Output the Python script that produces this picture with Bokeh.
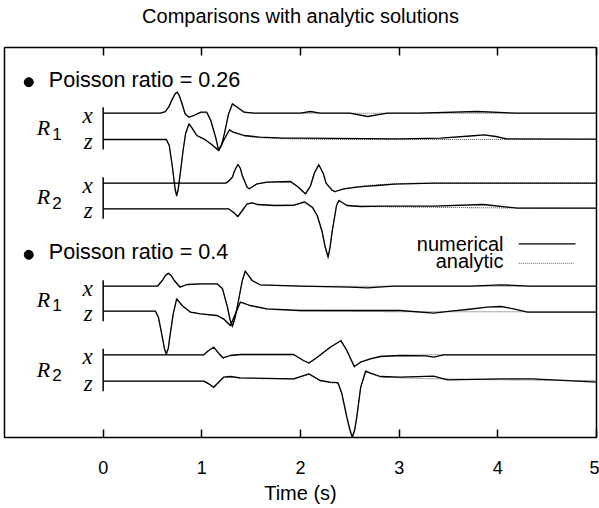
from bokeh.plotting import figure
from bokeh.models import Range1d, LinearAxis, FixedTicker, Label, Title
from bokeh.embed import file_html
from bokeh.resources import INLINE

# ---------------- data ----------------
title_text = "Comparisons with analytic solutions"
time_ticks = [0, 1, 2, 3, 4, 5]
group_titles = ["Poisson ratio = 0.26", "Poisson ratio = 0.4"]
receivers = ["R", "R", "R", "R"]
receiver_subs = ["1", "2", "1", "2"]
components = ["x", "z", "x", "z", "x", "z", "x", "z"]
# vertical offsets of the 8 traces (plot units)
offsets = [324.3, 298.0, 254.3, 228.7, 151.3, 126.3, 82.7, 56.3]

# numerical traces (time in s, amplitude in plot units)
A_t = [0, 0.58, 0.63, 0.67, 0.70, 0.73, 0.75, 0.77, 0.80, 0.83, 0.87, 0.92, 0.99, 1.05, 1.09, 1.14, 1.17, 1.20, 1.23, 1.27, 1.31, 1.36, 1.43, 1.53, 2.0, 2.1, 2.2, 2.5, 2.68, 2.88, 3.2, 3.79, 4.2, 5.0]
A_a = [0, 0, 1.5, 7, 14, 19.5, 21, 18, 9.5, -0.5, -4, -2.3, 1, 1, -7, -24, -37, -32, -20, -1, 9.5, 6, 1, 0, 0, 1.7, 0, 0, -3.3, 0, 0, 1.7, 0, 0]
B_t = [0, 0.64, 0.67, 0.70, 0.73, 0.745, 0.76, 0.79, 0.81, 0.835, 0.87, 0.90, 0.95, 1.02, 1.09, 1.14, 1.17, 1.22, 1.28, 1.32, 1.43, 1.59, 1.83, 2.0, 3.0, 3.42, 3.72, 3.86, 3.98, 4.09, 5.0]
B_a = [0, 0, -6, -26, -50, -56, -50, -27, -11, 5.7, 15.7, 11.7, 4, 0.7, -4.3, -8.3, -11, -1, 9.7, 7.3, 4, 2.3, 1.3, 1.3, 0.7, 1.3, 3.5, 4.7, 3, 0.7, 0.3]
C_t = [0, 1.24, 1.26, 1.31, 1.33, 1.365, 1.39, 1.41, 1.46, 1.48, 1.56, 1.66, 1.90, 1.98, 2.05, 2.10, 2.14, 2.185, 2.23, 2.26, 2.32, 2.35, 2.44, 2.57, 2.68, 2.78, 2.95, 3.35, 5.0]
C_a = [0, 0, 1, 6, 12, 18.7, 15, 7.7, -4, -5.6, -0.6, 1, 1.7, -4, -10.6, -3, 10, 18.4, 10, 0, -7, -8.3, -5.6, -4, -3, -2.3, -1, 0, 0]
D_t = [0, 1.27, 1.32, 1.365, 1.41, 1.46, 1.51, 1.56, 1.73, 1.93, 2.04, 2.12, 2.17, 2.22, 2.25, 2.28, 2.30, 2.32, 2.365, 2.39, 2.47, 2.61, 2.84, 3.35, 3.85, 4.2, 5.0]
D_a = [0, 0, -3.4, -7.7, -1.7, 5, 6, 4.3, 3.3, 3.5, 7, 1.6, -6.7, -23, -38, -48, -38, -23, 3.3, 8.3, 3.3, 2.3, 2.6, 2.6, 4.3, 0.6, 0.6]
E_t = [0, 0.55, 0.60, 0.63, 0.66, 0.69, 0.72, 0.78, 0.85, 0.99, 1.155, 1.21, 1.26, 1.285, 1.31, 1.34, 1.365, 1.41, 1.44, 1.47, 1.51, 1.59, 2.0, 2.5, 2.68, 2.94, 3.72, 4.03, 4.33, 5.0]
E_a = [0, 0, 5.7, 10.5, 13, 10.5, 5.7, -1, 1.7, 2.4, 2.4, -2.6, -21, -33, -40, -30, -17.6, 5.7, 15, 11, 5.7, 1.4, 0, -1, -1.7, 0, 0, 1.4, 0, 0]
F_t = [0, 0.53, 0.56, 0.60, 0.62, 0.64, 0.66, 0.675, 0.71, 0.745, 0.80, 0.885, 0.99, 1.155, 1.22, 1.29, 1.34, 1.39, 1.49, 1.66, 2.0, 3.01, 3.35, 3.52, 3.69, 3.89, 4.03, 4.16, 4.30, 5.0]
F_a = [0, 0, -6, -26, -37, -42.6, -37, -26, -2.6, 12.4, 5.7, -1, -2.6, -4.3, -7.6, -14.3, -2.6, 9, 5.7, 2.4, 0.7, 0.7, -2, 0, 1.7, 4, 4.7, 2.4, -1, -1]
G_t = [0, 1.02, 1.07, 1.12, 1.17, 1.215, 1.29, 1.39, 1.93, 2.03, 2.085, 2.17, 2.30, 2.41, 2.47, 2.545, 2.61, 2.71, 2.81, 3.01, 3.27, 3.35, 3.45, 5.0]
G_a = [0, 0, 4.3, 7.6, 1.6, -3, -0.7, 0.3, 0.3, -5.7, -8.2, -2.4, 7.6, 14, 4.3, -11.7, -7.4, -4, -1.7, -0.7, -1, -2.4, 0, 0]
H_t = [0, 1.02, 1.07, 1.12, 1.17, 1.22, 1.29, 1.39, 1.93, 2.085, 2.20, 2.30, 2.38, 2.42, 2.47, 2.50, 2.525, 2.55, 2.57, 2.61, 2.66, 2.71, 2.81, 3.01, 3.35, 3.49, 4.03, 4.35, 5.0]
H_a = [0, 0, -2.6, -6, -1, 4, 4.7, 3.4, 2.4, 7.4, 0.7, -1, -1.5, -12.6, -36, -48, -56, -48, -36, -6, 10, 8, 4.7, 4, 5, 1.4, 2.4, 2.4, -1]

# analytic traces
A_an_t = [0, 0.58, 0.63, 0.67, 0.70, 0.73, 0.75, 0.77, 0.80, 0.83, 0.87, 0.92, 0.99, 1.05, 1.09, 1.14, 1.17, 1.20, 1.23, 1.27, 1.31, 1.36, 1.43, 1.53, 5.0]
A_an_a = [0, 0, 1.5, 7.5, 14.5, 20, 21.5, 18, 9, -1, -4, -2, 0.5, 0.5, -7.5, -25, -38, -32, -20, -1.5, 9, 5.5, 0.5, 0, 0]
B_an_t = [0, 0.64, 0.67, 0.70, 0.73, 0.745, 0.76, 0.79, 0.81, 0.835, 0.87, 0.90, 0.95, 1.02, 1.09, 1.14, 1.17, 1.22, 1.28, 1.32, 1.43, 1.59, 1.83, 2.3, 5.0]
B_an_a = [0, 0, -6, -27, -51, -57, -51, -28, -11, 6, 16, 11, 3.5, 0.3, -4.5, -8.8, -11.5, -1.5, 9.2, 7, 3.5, 1.8, 0.8, 0, 0]
C_an_t = [0, 1.24, 1.26, 1.31, 1.33, 1.365, 1.39, 1.41, 1.46, 1.48, 1.56, 1.66, 1.90, 1.98, 2.05, 2.10, 2.14, 2.185, 2.23, 2.26, 2.32, 2.35, 2.44, 2.57, 2.78, 3.1, 5.0]
C_an_a = [0, 0, 1, 6.5, 12.5, 19, 15, 7, -4.5, -5.8, -0.8, 0.8, 1.2, -4.5, -11, -3.5, 10, 19, 10, -0.5, -7.5, -8.8, -5.5, -3.5, -1.5, 0, 0]
D_an_t = [0, 1.27, 1.32, 1.365, 1.41, 1.46, 1.51, 1.56, 1.73, 1.93, 2.04, 2.12, 2.17, 2.22, 2.25, 2.28, 2.30, 2.32, 2.365, 2.39, 2.47, 2.61, 2.84, 3.35, 4.2, 5.0]
D_an_a = [0, 0, -3.6, -8, -1.5, 5, 5.8, 4.5, 3.5, 3.8, 6.5, 1.2, -7.5, -24, -39, -50, -39, -24, 3, 8.5, 3.5, 2.5, 2, 1.5, 0.8, 0.5]
E_an_t = [0, 0.55, 0.60, 0.63, 0.66, 0.69, 0.72, 0.78, 0.85, 0.99, 1.155, 1.21, 1.26, 1.285, 1.31, 1.34, 1.365, 1.41, 1.44, 1.47, 1.51, 1.59, 2.0, 5.0]
E_an_a = [0, 0, 6, 11, 13.5, 11, 6, -0.5, 1.5, 2.2, 2.2, -3, -22, -34, -41, -31, -18, 5.5, 15.5, 11, 5.5, 1.2, 0, 0]
F_an_t = [0, 0.53, 0.56, 0.60, 0.62, 0.64, 0.66, 0.675, 0.71, 0.745, 0.80, 0.885, 0.99, 1.155, 1.22, 1.29, 1.34, 1.39, 1.49, 1.66, 2.0, 3.0, 5.0]
F_an_a = [0, 0, -6.5, -27, -38, -44, -38, -27, -3, 12.8, 5.5, -1.2, -2.8, -4.6, -8, -15, -3, 9.3, 5.5, 2, 0.3, -0.5, -0.5]
G_an_t = [0, 1.02, 1.07, 1.12, 1.17, 1.215, 1.29, 1.39, 1.93, 2.03, 2.085, 2.17, 2.30, 2.41, 2.47, 2.545, 2.61, 2.71, 2.81, 3.01, 3.3, 5.0]
G_an_a = [0, 0, 4.6, 8, 1.3, -3.3, -0.5, 0, 0, -6, -8.6, -2.8, 7.2, 14.5, 4, -12.3, -7, -3.6, -1.5, -0.5, 0, 0]
H_an_t = [0, 1.02, 1.07, 1.12, 1.17, 1.22, 1.29, 1.39, 1.93, 2.085, 2.20, 2.30, 2.38, 2.42, 2.47, 2.50, 2.525, 2.55, 2.57, 2.61, 2.66, 2.71, 2.81, 3.01, 3.35, 4.0, 5.0]
H_an_a = [0, 0, -2.8, -6.5, -1.3, 3.6, 4.3, 3, 2, 6.8, 0.3, -1.5, -2, -13.5, -37.5, -50, -57, -50, -37.5, -7, 10.5, 7.5, 4.2, 3.4, 2.5, 1.5, 0.5]

numerical = [(A_t, A_a), (B_t, B_a), (C_t, C_a), (D_t, D_a),
             (E_t, E_a), (F_t, F_a), (G_t, G_a), (H_t, H_a)]
analytic = [(A_an_t, A_an_a), (B_an_t, B_an_a), (C_an_t, C_an_a), (D_an_t, D_an_a),
            (E_an_t, E_an_a), (F_an_t, F_an_a), (G_an_t, G_an_a), (H_an_t, H_an_a)]

# ---------------- figure ----------------
SANS = "Liberation Sans"
SERIF = "Liberation Serif"
DY = 7  # label baseline correction

p = figure(width=599, height=508, output_backend="svg", toolbar_location=None,
           x_range=Range1d(-1, 5), y_range=Range1d(0, 390),
           x_axis_location=None, y_axis_location=None,
           min_border_left=4, min_border_right=3, min_border_top=47, min_border_bottom=71)
p.title = None
p.grid.visible = False
p.outline_line_color = "black"
p.outline_line_width = 1.5
p.background_fill_color = "white"
p.border_fill_color = "white"

xb = LinearAxis(ticker=FixedTicker(ticks=time_ticks), axis_label="Time (s)",
                major_tick_in=8, major_tick_out=0, minor_tick_line_color=None,
                axis_line_color=None, major_tick_line_width=1.5,
                major_label_text_font=SANS, major_label_text_font_size="18px",
                major_label_text_color="black",
                major_label_standoff=23, axis_label_standoff=5,
                axis_label_text_font=SANS, axis_label_text_font_size="20px",
                axis_label_text_font_style="normal", axis_label_text_color="black")
p.add_layout(xb, "below")

# above panels, from the frame outward: top ticks, a blank spacer, the title
xt = LinearAxis(ticker=FixedTicker(ticks=time_ticks),
                major_tick_in=8, major_tick_out=0, minor_tick_line_color=None,
                axis_line_color=None, major_tick_line_width=1.5,
                major_label_text_font_size="1px", major_label_text_alpha=0,
                major_label_standoff=0)
p.add_layout(xt, "above")
p.add_layout(Title(text=" ", text_font=SANS, text_font_size="10px", standoff=5), "above")
p.add_layout(Title(text=title_text, align="center", text_font=SANS,
                   text_font_size="20px", text_font_style="normal",
                   text_color="black", standoff=5), "above")

# traces
for (t, a), off in zip(analytic, offsets):
    p.line(t, [off + v for v in a], line_color="#555555", line_width=1.1,
           line_dash="1 1", line_join="round")
for (t, a), off in zip(numerical, offsets):
    p.line(t, [off + v for v in a], line_color="black", line_width=1.3,
           line_join="round")

# start bars
for i in range(4):
    p.segment(x0=[0], y0=[offsets[2 * i] + 6], x1=[0], y1=[offsets[2 * i + 1] - 10],
              line_color="black", line_width=1.5)

# component labels
for comp, off in zip(components, offsets):
    p.add_layout(Label(x=-0.105, y=off - 9 + DY, text=comp, text_align="right",
                       text_baseline="alphabetic", text_font=SERIF, text_color="black",
                       text_font_style="italic", text_font_size="23px"))

# receiver labels
for i, (r, s) in enumerate(zip(receivers, receiver_subs)):
    yb = offsets[2 * i + 1] + 5 + DY
    p.add_layout(Label(x=-0.672, y=yb, text=r, text_baseline="alphabetic",
                       text_font=SERIF, text_font_style="italic", text_font_size="22px",
                       text_color="black"))
    p.add_layout(Label(x=-0.517, y=yb - 6, text=s, text_baseline="alphabetic",
                       text_font=SANS, text_font_size="17px", text_color="black"))

# group titles with bullets
for title, yb in zip(group_titles, [351.3, 178.7]):
    p.scatter(x=[-0.754], y=[yb + 4], size=9, color="black")
    p.add_layout(Label(x=-0.551, y=yb + DY, text=title, text_baseline="alphabetic",
                       text_font=SANS, text_font_size="21.6px", text_color="black"))

# legend
p.add_layout(Label(x=4.057, y=187 + DY, text="numerical", text_align="right",
                   text_baseline="alphabetic", text_font=SANS, text_font_size="20px",
                   text_color="black"))
p.add_layout(Label(x=4.057, y=169.3 + DY, text="analytic", text_align="right",
                   text_baseline="alphabetic", text_font=SANS, text_font_size="20px",
                   text_color="black"))
p.line([4.212, 4.787], [193.7, 193.7], line_color="black", line_width=1.2)
p.line([4.212, 4.767], [174.3, 174.3], line_color="#555555", line_width=1.1, line_dash="1 1")

open("out.html", "w").write(file_html(p, INLINE))
